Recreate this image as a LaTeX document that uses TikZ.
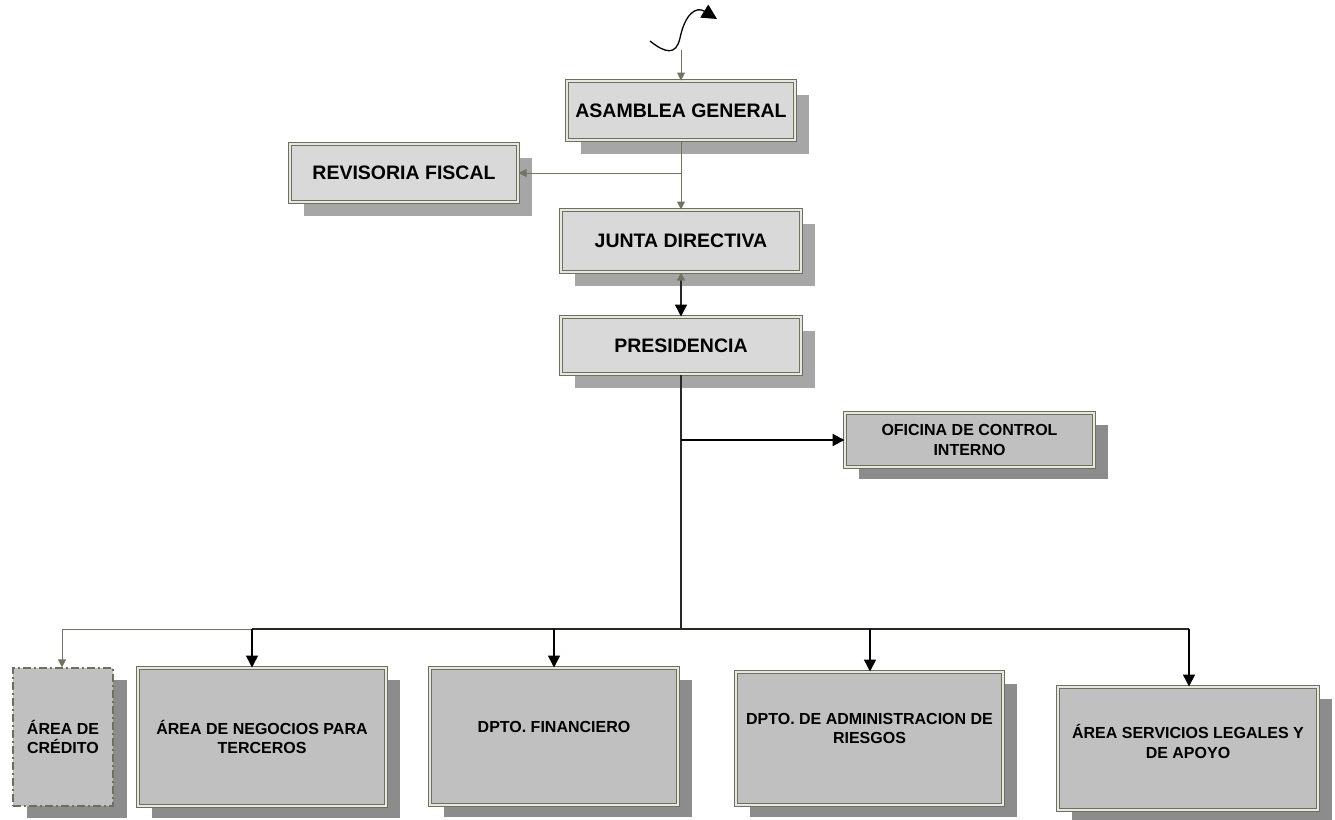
\documentclass[tikz,border=0pt]{standalone}
\usepackage{fontspec}
\setmainfont{Liberation Sans}
\usetikzlibrary{arrows.meta,shadows}
\definecolor{boxline}{RGB}{108,112,94}
\definecolor{boxgap}{RGB}{232,232,226}
\definecolor{upperfill}{RGB}{217,217,217}
\definecolor{uppershade}{RGB}{166,166,166}
\definecolor{lowerfill}{RGB}{192,192,192}
\definecolor{lowershade}{RGB}{140,140,140}
\definecolor{linkgray}{RGB}{112,116,98}
\definecolor{linkdark}{RGB}{40,40,36}
\tikzstyle{org box}=[shape=rectangle, inner sep=0pt, align=center]
\tikzstyle{framed}=[draw=boxline, double=boxgap, double distance=1.5pt, line width=1pt]
\tikzstyle{upper box}=[org box, framed, fill=upperfill, general shadow={fill=uppershade, shadow xshift=14pt, shadow yshift=-14pt}, font=\bfseries\fontsize{19.5}{23}\selectfont]
\tikzstyle{lower box}=[org box, framed, fill=lowerfill, general shadow={fill=lowershade, shadow xshift=14pt, shadow yshift=-12pt}, font=\bfseries\fontsize{16}{19.5}\selectfont]
\tikzstyle{credit box}=[org box, fill=lowerfill, draw=boxline, line width=1.2pt, dash pattern=on 8pt off 3pt on 2pt off 3pt, general shadow={fill=lowershade, shadow xshift=14pt, shadow yshift=-12pt}, font=\bfseries\fontsize{16}{19.5}\selectfont]
\tikzstyle{lifted}=[text depth=#1]
\tikzstyle{gray line}=[-, draw=linkgray, line width=1pt]
\tikzstyle{gray link}=[gray line, -{Triangle[width=8pt,length=8pt]}]
\tikzstyle{dark link}=[draw=black, line width=1.5pt, -{Triangle[width=12pt,length=12pt]}]
\tikzstyle{both link}=[draw=linkdark, line width=1.5pt, {Triangle[width=8pt,length=8pt,color=linkgray]}-{Triangle[width=12pt,length=12pt,color=black]}]
\tikzstyle{trunk}=[-, draw=linkdark, line width=2.2pt]
\pgfdeclarelayer{nodelayer}
\pgfdeclarelayer{edgelayer}
\pgfsetlayers{nodelayer,edgelayer,main}
\begin{document}
\begin{tikzpicture}[x=1pt, y=-1pt]
	\useasboundingbox (0,0) rectangle (1335,819);
	\begin{pgfonlayer}{nodelayer}
		\node [style=upper box, minimum width=228, minimum height=59] (asamblea) at (681,110.5) {ASAMBLEA GENERAL};
		\node [style=upper box, minimum width=228, minimum height=58] (revisoria) at (404,173) {REVISORIA FISCAL};
		\node [style=upper box, minimum width=240, minimum height=62] (junta) at (681,241) {JUNTA DIRECTIVA};
		\node [style=upper box, minimum width=240, minimum height=57] (presidencia) at (681,345.5) {PRESIDENCIA};
		\node [style=lower box, minimum width=249, minimum height=54] (oficina) at (969.5,440) {OFICINA DE CONTROL\\INTERNO};
		\node [style=credit box, minimum width=100, minimum height=138] (credito) at (63,737) {ÁREA DE\\CRÉDITO};
		\node [style=lower box, minimum width=248, minimum height=138] (negocios) at (262,737) {ÁREA DE NEGOCIOS PARA\\TERCEROS};
		\node [style=lower box, lifted=20pt, minimum width=248, minimum height=137] (financiero) at (554,736.5) {DPTO. FINANCIERO};
		\node [style=lower box, lifted=20pt, minimum width=267, minimum height=133] (riesgos) at (869.5,738.5) {DPTO. DE ADMINISTRACION DE\\RIESGOS};
		\node [style=lower box, lifted=14pt, minimum width=260, minimum height=123] (legales) at (1188,748.5) {ÁREA SERVICIOS LEGALES Y\\DE APOYO};
	\end{pgfonlayer}
	\begin{pgfonlayer}{edgelayer}
		\coordinate (squigstart) at (650,41);
		\coordinate (squigend) at (717,19);
		\coordinate (entry) at (681,50);
		\coordinate (fiscaltap) at (681,173);
		\coordinate (controltap) at (681,440);
		\coordinate (hub) at (681,629);
		\coordinate (tapcred) at (62,629);
		\coordinate (tapnego) at (252,629);
		\coordinate (tapfin) at (554,629);
		\coordinate (tapries) at (870,629);
		\coordinate (tapleg) at (1189,629);
		\draw [black, line width=1.3pt, -{Triangle[width=15pt,length=15pt]}] (squigstart) .. controls (665,53) and (676,56) .. (680,38) .. controls (685,14) and (696,6) .. (squigend);
		\draw [style=gray link] (entry) to (asamblea);
		\draw [style=gray link] (asamblea) to (junta);
		\draw [style=gray link] (fiscaltap) to (revisoria);
		\draw [style=both link] (junta) to (presidencia);
		\draw [style=trunk] (presidencia.south) to (hub);
		\draw [style=dark link, line width=2pt] (controltap) to (oficina);
		\draw [style=trunk] (tapnego) to (tapleg);
		\draw [style=gray line] (tapcred) to (tapnego);
		\draw [style=gray link] (tapcred) to (tapcred |- credito.north);
		\draw [style=dark link] (tapnego) to (tapnego |- negocios.north);
		\draw [style=dark link] (tapfin) to (financiero);
		\draw [style=dark link] (tapries) to (tapries |- riesgos.north);
		\draw [style=dark link] (tapleg) to (tapleg |- legales.north);
	\end{pgfonlayer}
\end{tikzpicture}
\end{document}
